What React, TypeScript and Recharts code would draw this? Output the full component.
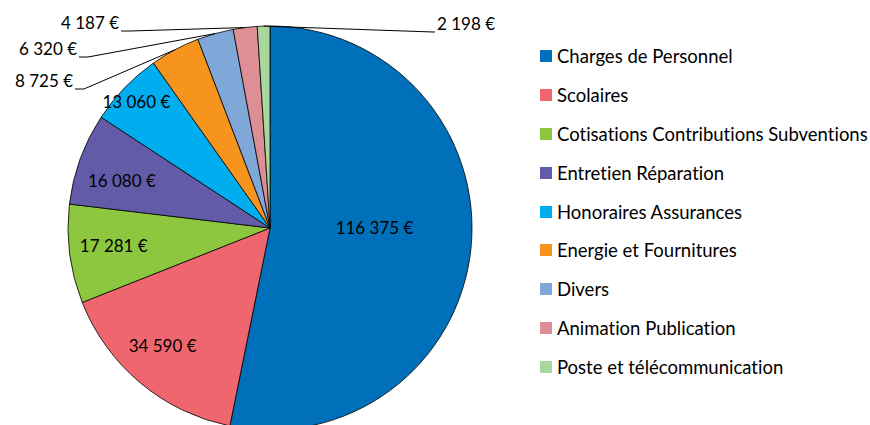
import { PieChart, Pie, Cell, Legend } from "recharts"

const categories = [
  "Charges de Personnel",
  "Scolaires",
  "Cotisations Contributions Subventions",
  "Entretien Réparation",
  "Honoraires Assurances",
  "Energie et Fournitures",
  "Divers",
  "Animation Publication",
  "Poste et télécommunication",
]

const amounts = [116375, 34590, 17281, 16080, 13060, 8725, 6320, 4187, 2198]

const colors = [
  "#0070BA",
  "#F0666E",
  "#8DC63F",
  "#635BA7",
  "#00AEEF",
  "#F7941D",
  "#7FA7D8",
  "#DE8F95",
  "#A9D89E",
]

const chartData = categories.map((name, i) => ({ name, value: amounts[i] }))

const FONT = "Lato, 'Open Sans', sans-serif"
const RAD = Math.PI / 180

// inner labels: radius as a share of the outer radius, plus small nudges
const innerRadius = [0.52, 0.79, 0.78, 0.77, 0.92]
const innerNudge = [
  [0, -11],
  [-5, -5],
  [0, -3],
  [-2, 6],
  [0, 3],
]
// outer labels: elbow point relative to centre, and which side the text goes
const outerSpots: Record<number, { dx: number; dy: number; side: "left" | "right" }> = {
  5: { dx: -186, dy: -139, side: "left" },
  6: { dx: -182, dy: -171, side: "left" },
  7: { dx: -140, dy: -197, side: "left" },
  8: { dx: 163, dy: -196, side: "right" },
}

const formatEuro = (v: number) =>
  v.toString().replace(/\B(?=(\d{3})+(?!\d))/g, " ") + " €"

const renderLabel = (props: any) => {
  const { cx, cy, midAngle, outerRadius, index, value } = props
  const cos = Math.cos(-midAngle * RAD)
  const sin = Math.sin(-midAngle * RAD)
  if (index < innerRadius.length) {
    const r = outerRadius * innerRadius[index]
    const [nx, ny] = innerNudge[index]
    return (
      <text
        x={cx + r * cos + nx}
        y={cy + r * sin + ny}
        textAnchor="middle"
        dominantBaseline="central"
        fontFamily={FONT}
        fontSize={17}
        fill="#000"
      >
        {formatEuro(value)}
      </text>
    )
  }
  const spot = outerSpots[index]
  const sx = cx + outerRadius * cos
  const sy = cy + outerRadius * sin
  const ex = cx + spot.dx
  const ey = cy + spot.dy
  const hx = spot.side === "left" ? ex - 9 : ex + 2
  const tx = spot.side === "left" ? hx - 2 : hx + 2
  return (
    <g>
      <path d={`M${sx},${sy}L${ex},${ey}L${hx},${ey}`} stroke="#000" strokeWidth={1} fill="none" />
      <text
        x={tx}
        y={ey - 2}
        textAnchor={spot.side === "left" ? "end" : "start"}
        fontFamily={FONT}
        fontSize={17}
        fill="#000"
      >
        {formatEuro(value)}
      </text>
    </g>
  )
}

const renderLegend = () => (
  <div style={{ fontFamily: FONT, fontSize: 18.5, color: "#000", fontVariantLigatures: "none" }}>
    {categories.map((name, i) => (
      <div key={name} style={{ display: "flex", alignItems: "center", height: 38.8 }}>
        <span
          style={{
            display: "inline-block",
            width: 12,
            height: 12,
            background: colors[i],
            marginRight: 5,
          }}
        />
        <span style={{ whiteSpace: "nowrap" }}>{name}</span>
      </div>
    ))}
  </div>
)

export default function App() {
  return (
    <div style={{ position: "absolute", left: 0, top: 0, width: 870, height: 425, overflow: "hidden", background: "#fff" }}>
      <PieChart width={870} height={425} margin={{ top: 0, right: 0, bottom: 0, left: 0 }}>
        <Pie
          data={chartData}
          dataKey="value"
          nameKey="name"
          cx={270}
          cy={228}
          outerRadius={202}
          startAngle={90}
          endAngle={-270}
          stroke="#000"
          strokeWidth={0.8}
          label={renderLabel}
          labelLine={false}
          isAnimationActive={false}
        >
          {chartData.map((entry, index) => (
            <Cell key={`cell-${index}`} fill={colors[index]} />
          ))}
        </Pie>
        <Legend
          content={renderLegend}
          wrapperStyle={{ position: "absolute", left: 540, top: 37, width: 330 }}
        />
      </PieChart>
    </div>
  )
}
